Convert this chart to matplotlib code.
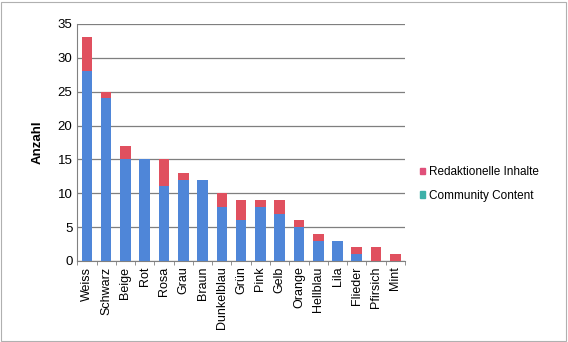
import numpy as np
import matplotlib.pyplot as plt
from matplotlib.patches import Patch

# Data
farben = ["Weiss", "Schwarz", "Beige", "Rot", "Rosa", "Grau", "Braun", "Dunkelblau",
          "Grün", "Pink", "Gelb", "Orange", "Hellblau", "Lila", "Flieder", "Pfirsich", "Mint"]
community = [28, 24, 15, 15, 11, 12, 12, 8, 6, 8, 7, 5, 3, 3, 1, 0, 0]
redaktionell = [5, 1, 2, 0, 4, 1, 0, 2, 3, 1, 2, 1, 1, 0, 1, 2, 1]


def main():
	fig = plt.figure(figsize=(5.68, 3.42), dpi=100)
	ax = fig.add_axes([0.136, 0.237, 0.577, 0.693])

	x = np.arange(len(farben))
	ax.bar(x, community, width=0.55, color="#4f86d8", zorder=3)
	ax.bar(x, redaktionell, width=0.55, bottom=community, color="#e0505f", zorder=3)

	ax.set_ylim(0, 35)
	ax.set_xlim(-0.5, len(farben) - 0.5)
	ax.set_yticks(range(0, 36, 5))
	ax.yaxis.grid(True, color="#7f7f7f", linewidth=0.9, zorder=0)
	ax.set_xticks(x)
	ax.set_xticklabels(farben, rotation=90, fontsize=9, family="Liberation Sans")
	# tick marks between the categories, like the original
	ax.set_xticks(np.arange(-0.5, len(farben), 1), minor=True)
	ax.tick_params(axis="x", which="major", length=0, pad=4)
	ax.tick_params(axis="x", which="minor", length=3, color="#808080")
	ax.tick_params(axis="y", labelsize=9.5, length=0)
	for lbl in ax.get_yticklabels():
		lbl.set_family("Liberation Sans")

	for s in ["top", "right"]:
		ax.spines[s].set_visible(False)
	ax.spines["left"].set_color("#808080")
	ax.spines["bottom"].set_color("#808080")

	ax.set_ylabel("Anzahl", fontsize=9.5, fontweight="bold", family="Liberation Sans", labelpad=10)

	handles = [Patch(color="#e0507a"), Patch(color="#3cb0a8")]
	fig.legend(handles, ["Redaktionelle Inhalte", "Community Content"],
			   loc="upper left", bbox_to_anchor=(0.72, 0.545), frameon=False,
			   handlelength=0.5, handleheight=0.5, handletextpad=0.3,
			   labelspacing=1.0, prop={"family": "Liberation Sans", "size": 8.5})

	# frame around the whole picture
	fig.patches.append(plt.Rectangle((0.002, 0.004), 0.995, 0.99, transform=fig.transFigure,
									 fill=False, edgecolor="#b0b0b0", linewidth=0.8))

	fig.savefig("out.png", dpi=100)


main()
